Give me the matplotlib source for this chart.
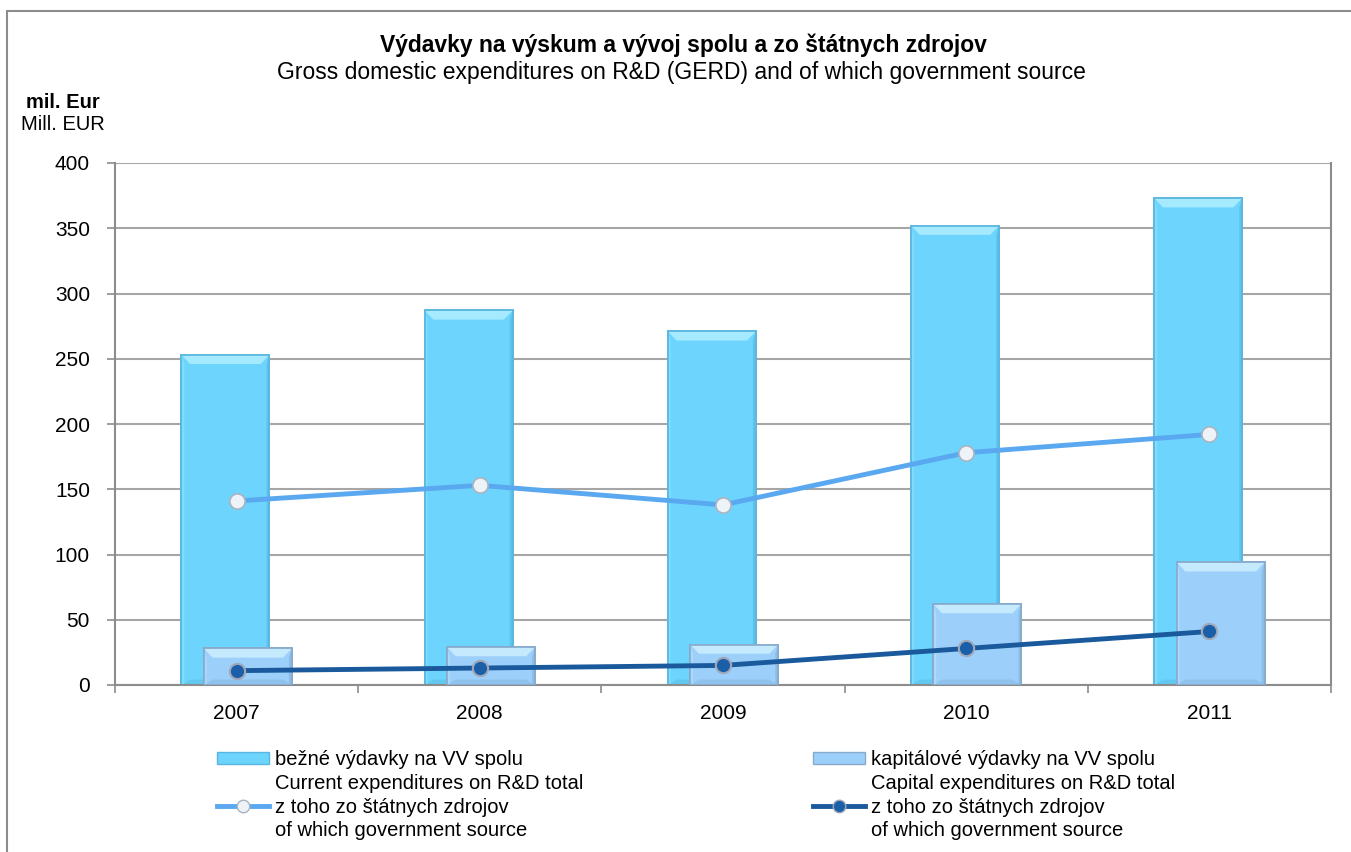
import matplotlib
matplotlib.use("Agg")
import matplotlib.pyplot as plt
import numpy as np
from matplotlib.lines import Line2D
from matplotlib.patches import Patch, Rectangle, Polygon

plt.rcParams['font.family'] = ['Liberation Sans', 'DejaVu Sans']

years = ['2007', '2008', '2009', '2010', '2011']
current_total = [253, 287, 271, 352, 373]
capital_total = [28, 29, 31, 62, 94]
current_gov = [141, 153, 138, 178, 192]
capital_gov = [11, 13, 15, 28, 41]

title_sk = 'Výdavky na výskum a vývoj spolu a zo štátnych zdrojov'
title_en = 'Gross domestic expenditures on R&D (GERD) and of which government source'
ylabel_sk = 'mil. Eur'
ylabel_en = 'Mill. EUR'
leg_col1 = ['bežné výdavky na VV spolu', 'Current expenditures on R&D total',
            'z toho zo štátnych zdrojov', 'of which government source']
leg_col2 = ['kapitálové výdavky na VV spolu', 'Capital expenditures on R&D total',
            'z toho zo štátnych zdrojov', 'of which government source']

W, H = 1351, 852
fig = plt.figure(figsize=(W/100, H/100), dpi=100)
fig.patch.set_facecolor('white')

# outer frame
fig.add_artist(Rectangle((7/W, -0.05), 1.2, 1 - 11/H + 0.05, transform=fig.transFigure,
                         fill=False, edgecolor='#8c8c8c', linewidth=1.5))

ax = fig.add_axes([115/W, 1 - 685/H, (1331-115)/W, (685-163)/H])
x = np.arange(len(years))
bw = 0.362
off = 0.046

c_cur = '#6dd5fd'
c_cap = '#9dcffb'


def bevel_bars(xs, vals, color, edge, top_c, side_l, side_r, bottom_c, z):
    ax.bar(xs, vals, bw, color=color, edgecolor=edge, linewidth=1.2, zorder=z)
    dx = 0.036
    dy = 7.0
    sx = 0.012
    for xc, v in zip(xs, vals):
        l, r = xc - bw/2, xc + bw/2
        d = min(dy, v/2)
        ax.add_patch(Polygon([(l, v), (r, v), (r - dx, v - d), (l + dx, v - d)],
                             closed=True, facecolor=top_c, edgecolor='none', zorder=z + 0.1))
        ax.add_patch(Polygon([(l, 0), (r, 0), (r - dx, d * 0.6), (l + dx, d * 0.6)],
                             closed=True, facecolor=bottom_c, edgecolor='none', zorder=z + 0.1))
        ax.add_patch(Polygon([(r, 0), (r, v), (r - sx, v - d), (r - sx, 0)],
                             closed=True, facecolor=side_r, edgecolor='none', zorder=z + 0.1))
        ax.add_patch(Polygon([(l, 0), (l, v), (l + sx, v - d), (l + sx, 0)],
                             closed=True, facecolor=side_l, edgecolor='none', zorder=z + 0.1))
        ax.add_patch(Rectangle((l, 0), bw, v, fill=False, edgecolor=edge, linewidth=1.2, zorder=z + 0.2))


bevel_bars(x - off, current_total, c_cur, '#5ab6de', '#a6eaff', '#7edcfd', '#5ec3ea', '#62c8f0', 2)
bevel_bars(x + off, capital_total, c_cap, '#86aacb', '#c6eafd', '#acd8fc', '#8cbde8', '#90c2ee', 3)

ax.plot(x, current_gov, color='#5aa8f0', linewidth=3.5, marker='o', markersize=11,
        markerfacecolor='#eef3f8', markeredgecolor='#a9b4c0', markeredgewidth=1.2, zorder=5)
ax.plot(x, capital_gov, color='#1a5a9c', linewidth=3.5, marker='o', markersize=11,
        markerfacecolor='#1b5fa8', markeredgecolor='#a0a8b8', markeredgewidth=1.5, zorder=5)

ax.set_xlim(-0.5, len(years) - 0.5)
ax.set_ylim(0, 400)
ax.set_yticks(np.arange(0, 401, 50))
ax.yaxis.grid(True, color='#a6a6a6', linewidth=1.5, zorder=0)
ax.set_axisbelow(True)
ax.set_xticks(x)
ax.set_xticklabels(years)
ax.set_xticks(np.arange(-0.5, len(years)), minor=True)
ax.tick_params(axis='x', which='major', length=0, pad=14, labelsize=15)
ax.tick_params(axis='x', which='minor', length=6, color='#8c8c8c', width=1.2)
ax.tick_params(axis='y', length=6, color='#8c8c8c', width=1.2, labelsize=15, pad=12)
ax.spines['top'].set_visible(False)
for s in ['left', 'right', 'bottom']:
    ax.spines[s].set_color('#8c8c8c')
    ax.spines[s].set_linewidth(1.5)

fig.text(683/W, 1 - 45/H, title_sk, ha='center', va='center', fontsize=16.5, fontweight='bold')
fig.text(681/W, 1 - 73/H, title_en, ha='center', va='center', fontsize=16.5)
fig.text(63/W, 1 - 103/H, ylabel_sk, ha='center', va='center', fontsize=14.5, fontweight='bold')
fig.text(63/W, 1 - 125/H, ylabel_en, ha='center', va='center', fontsize=14.5)

h_cur = Patch(facecolor=c_cur, edgecolor='#5ab6de')
h_cap = Patch(facecolor=c_cap, edgecolor='#86aacb')
h_l1 = Line2D([], [], color='#5aa8f0', linewidth=3.5, marker='o', markersize=9,
              markerfacecolor='#eef3f8', markeredgecolor='#a9b4c0')
h_l2 = Line2D([], [], color='#1a5a9c', linewidth=3.5, marker='o', markersize=9,
              markerfacecolor='#1b5fa8', markeredgecolor='#a0a8b8')
h_none = Line2D([], [], linestyle='none', marker=None)

common = dict(frameon=False, fontsize=14.5, handlelength=2.6, handleheight=0.5,
              handletextpad=0.3, labelspacing=0.24, borderpad=0, borderaxespad=0)
fig.legend([h_cur, h_none, h_l1, h_none], leg_col1, loc='upper left',
           bbox_to_anchor=(217/W, 1 - 750/H), **common)
fig.legend([h_cap, h_none, h_l2, h_none], leg_col2, loc='upper left',
           bbox_to_anchor=(813/W, 1 - 750/H), **common)

fig.savefig('out.png', dpi=100, facecolor='white')
